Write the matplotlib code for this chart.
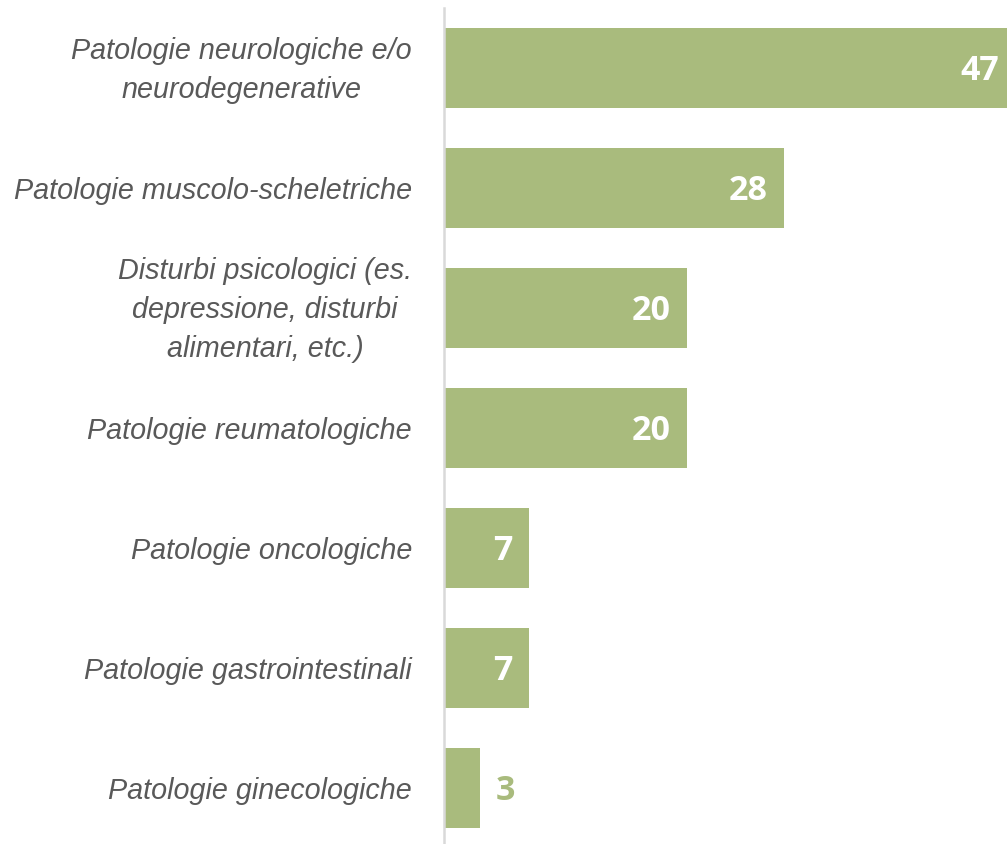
import matplotlib
matplotlib.use("Agg")
import matplotlib.pyplot as plt
from matplotlib.transforms import ScaledTranslation

categories = [
    "Patologie neurologiche e/o\nneurodegenerative",
    "Patologie muscolo-scheletriche",
    "Disturbi psicologici (es.\ndepressione, disturbi\nalimentari, etc.)",
    "Patologie reumatologiche",
    "Patologie oncologiche",
    "Patologie gastrointestinali",
    "Patologie ginecologiche",
]
values = [47, 28, 20, 20, 7, 7, 3]

bar_color = "#A9BB7D"
text_color = "#595959"

fig = plt.figure(figsize=(10.07, 8.44), dpi=100)
ax = fig.add_axes([444 / 1007, 0.0, 1 - 444 / 1007, 836 / 844])

ypos = list(range(len(categories)))
ax.barh(ypos, values, height=0.667, color=bar_color, zorder=2)
ax.set_xlim(0, 46.3)
ax.set_ylim(6.467, -0.5)

for y, v in zip(ypos, values):
    if v >= 5:
        ax.annotate(str(v), xy=(v, y), xytext=(-12, -2), textcoords="offset points",
                    ha="right", va="center", color="white", fontweight="bold",
                    fontsize=24.5, family="Open Sans", annotation_clip=False)
    else:
        ax.annotate(str(v), xy=(v, y), xytext=(11, -2), textcoords="offset points",
                    ha="left", va="center", color=bar_color, fontweight="bold",
                    fontsize=24.5, family="Open Sans")

ax.set_yticks(ypos)
ax.set_yticklabels(categories, fontsize=20.7, fontstyle="italic", color=text_color,
                   family="Liberation Sans", multialignment="center", linespacing=1.5)
ax.tick_params(axis="y", length=0, pad=23)
for lbl in ax.get_yticklabels():
    if "\n" in lbl.get_text():
        lbl.set_transform(lbl.get_transform() + ScaledTranslation(0, 6 / 100, fig.dpi_scale_trans))
ax.set_xticks([])
for s in ["top", "right", "bottom"]:
    ax.spines[s].set_visible(False)
ax.spines["left"].set_color("#D9D9D9")
ax.spines["left"].set_linewidth(1.8)

fig.savefig("out.png", dpi=100)
